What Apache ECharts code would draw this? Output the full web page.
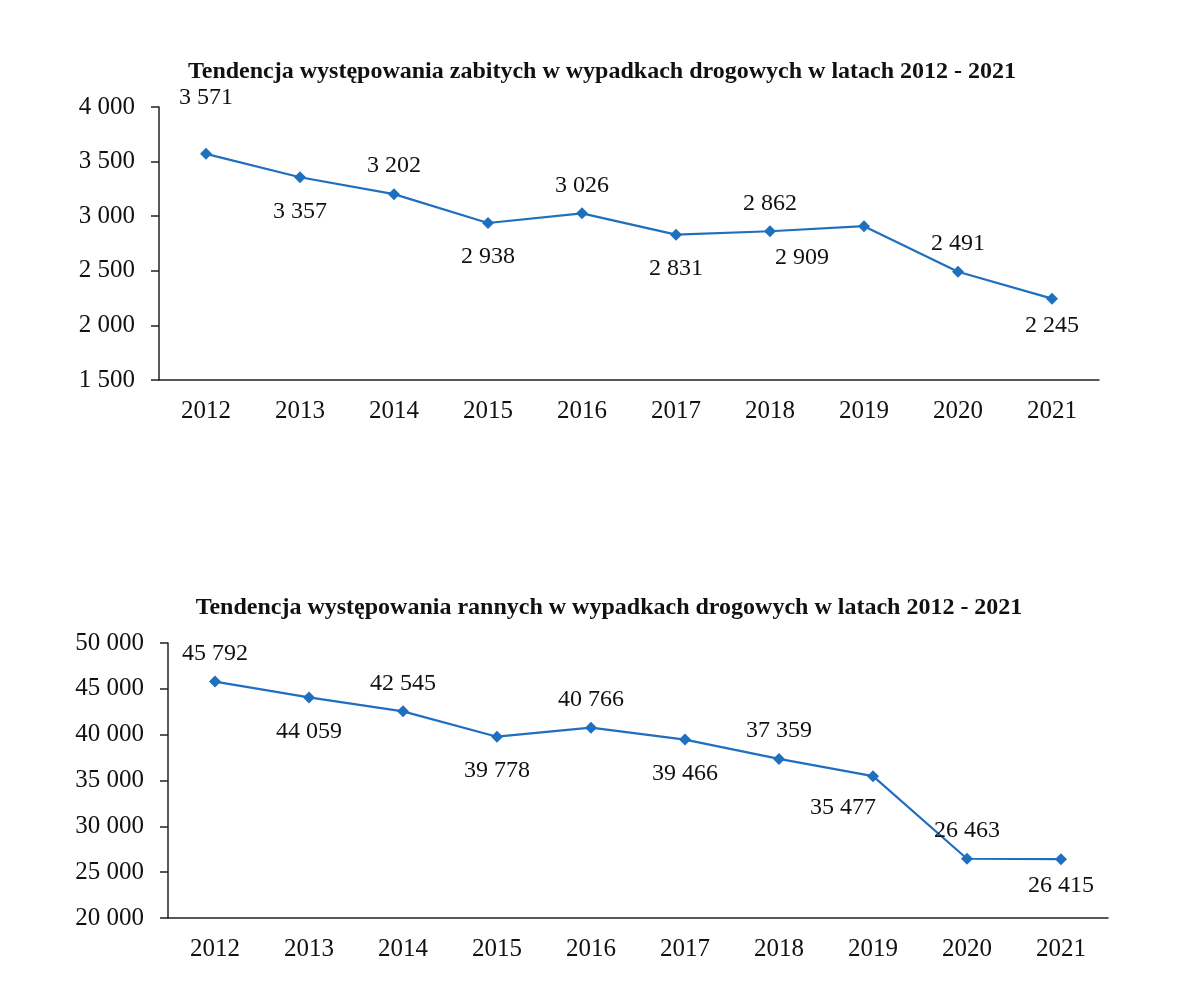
<!DOCTYPE html>
<html>
<head>
<meta charset="utf-8">
<script src="https://cdn.jsdelivr.net/npm/echarts@6/dist/echarts.min.js"></script>
<style>
  html, body { margin: 0; padding: 0; background: #fff; }
  #main { width: 1200px; height: 999px; }
</style>
</head>
<body>
<div id="main"></div>
<script>
// dane z wykresu
var years = ['2012', '2013', '2014', '2015', '2016', '2017', '2018', '2019', '2020', '2021'];
var zabici = [3571, 3357, 3202, 2938, 3026, 2831, 2862, 2909, 2491, 2245];
var ranni = [45792, 44059, 42545, 39778, 40766, 39466, 37359, 35477, 26463, 26415];
var zabiciTicks = [1500, 2000, 2500, 3000, 3500, 4000];
var ranniTicks = [20000, 25000, 30000, 35000, 40000, 45000, 50000];

var titleTop = 'Tendencja występowania zabitych w wypadkach drogowych w latach 2012 - 2021';
var titleBottom = 'Tendencja występowania rannych w wypadkach drogowych w latach 2012 - 2021';

var FONT = '"Liberation Serif", "Times New Roman", serif';
var BLUE = '#1f6fbf';

function fmt(v) {
  return String(v).replace(/\B(?=(\d{3})+(?!\d))/g, ' ');
}

// etykiety na przemian nad / pod punktem
function labelFor(i, tweaks) {
  var up = i % 2 === 0;
  var l = {
    show: true,
    position: up ? 'top' : 'bottom',
    distance: up ? 10 : 16,
    color: '#111',
    fontFamily: FONT,
    fontSize: 24,
    formatter: function (p) { return fmt(p.value); }
  };
  if (tweaks[i]) Object.assign(l, tweaks[i]);
  return l;
}

function buildData(values, tweaks) {
  return values.map(function (v, i) {
    return { value: v, label: labelFor(i, tweaks) };
  });
}

var topTweaks = {
  0: { distance: 38 },
  7: { offset: [-62, 0], distance: 14 },
  9: { distance: 9 }
};
var bottomTweaks = {
  7: { offset: [-30, 0], distance: 14 },
  9: { distance: 9 }
};

function xAxis(gi) {
  return {
    type: 'category',
    gridIndex: gi,
    data: years,
    boundaryGap: true,
    axisLine: { lineStyle: { color: '#222', width: 1.5 } },
    axisTick: { length: 8, lineStyle: { color: '#222', width: 1.5 } },
    axisLabel: { color: '#111', fontFamily: FONT, fontSize: 25, margin: 19 }
  };
}

function yAxis(gi, ticks) {
  return {
    type: 'value',
    gridIndex: gi,
    min: ticks[0],
    max: ticks[ticks.length - 1],
    interval: ticks[1] - ticks[0],
    axisLine: { show: true, lineStyle: { color: '#222', width: 1.5 } },
    axisTick: { show: true, length: 8, lineStyle: { color: '#222', width: 1.5 } },
    splitLine: { show: false },
    axisLabel: {
      color: '#111', fontFamily: FONT, fontSize: 25, margin: 24,
      formatter: function (v) { return fmt(v); }
    }
  };
}

function lineSeries(gi, values, tweaks) {
  return {
    type: 'line',
    xAxisIndex: gi,
    yAxisIndex: gi,
    data: buildData(values, tweaks),
    symbol: 'diamond',
    symbolSize: 12,
    lineStyle: { color: BLUE, width: 2.2 },
    itemStyle: { color: BLUE },
    animation: false
  };
}

var chart = echarts.init(document.getElementById('main'), null, { renderer: 'canvas' });

chart.setOption({
  backgroundColor: '#fff',
  title: [
    {
      text: titleTop, left: 597, top: 55, textAlign: 'center',
      textStyle: { fontFamily: FONT, fontSize: 24, fontWeight: 'bold', color: '#111' }
    },
    {
      text: titleBottom, left: 604, top: 591, textAlign: 'center',
      textStyle: { fontFamily: FONT, fontSize: 24, fontWeight: 'bold', color: '#111' }
    }
  ],
  grid: [
    { left: 159, right: 101, top: 107, bottom: 619 },
    { left: 168, right: 92, top: 643, bottom: 81 }
  ],
  xAxis: [xAxis(0), xAxis(1)],
  yAxis: [yAxis(0, zabiciTicks), yAxis(1, ranniTicks)],
  series: [
    lineSeries(0, zabici, topTweaks),
    lineSeries(1, ranni, bottomTweaks)
  ]
});
</script>
</body>
</html>
